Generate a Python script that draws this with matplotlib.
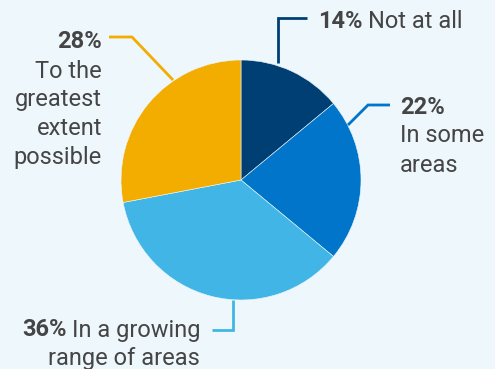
import matplotlib.pyplot as plt

plt.rcParams['font.family'] = ['Roboto', 'DejaVu Sans']

# survey shares, clockwise from 12 o'clock
labels = ['Not at all', 'In some areas', 'In a growing range of areas', 'To the greatest extent possible']
shares = [14, 22, 36, 28]
colors = ['#003f73', '#0075c9', '#41b6e6', '#f2ad00']

bg = '#eef7fc'
txt = '#454545'
W, H = 495, 369

fig = plt.figure(figsize=(W / 100, H / 100), dpi=100, facecolor=bg)
ax = fig.add_axes([0, 0, 1, 1])
ax.set_facecolor(bg)
ax.set_xlim(0, W)
ax.set_ylim(0, H)
ax.set_aspect('equal')
ax.axis('off')

def py(y):
    # pixel rows counted from the top
    return H - y

ax.pie(shares, colors=colors, startangle=90, counterclock=False,
       center=(241, py(180)), radius=120,
       wedgeprops=dict(edgecolor=bg, linewidth=0.4))
ax.set_xlim(0, W)
ax.set_ylim(0, H)

fs = 17

# leader lines
def leader(xs, ys, c):
    ax.plot(xs, [py(v) for v in ys], color=c, lw=2, solid_capstyle='butt', solid_joinstyle='miter')

leader([278, 278, 307], [63, 18, 18], colors[0])
leader([348, 368, 390], [125, 105, 105], colors[1])
leader([233, 233, 212], [300, 330, 330], colors[2])
leader([173, 132, 109], [80, 37, 37], colors[3])

# 14%
t = ax.text(318, py(21), f'{shares[0]}%', fontsize=fs, fontweight='bold', color=txt, va='center', ha='left')
fig.canvas.draw()
bb = t.get_window_extent()
ax.text(bb.x1 + 5, py(21), labels[0], fontsize=fs, color=txt, va='center', ha='left')

# 22%
ax.text(400, py(108), f'{shares[1]}%', fontsize=fs, fontweight='bold', color=txt, va='center', ha='left')
ax.text(400, py(136), 'In some', fontsize=fs, color=txt, va='center', ha='left')
ax.text(400, py(165), 'areas', fontsize=fs, color=txt, va='center', ha='left')

# 28%
ax.text(102, py(42), f'{shares[3]}%', fontsize=fs, fontweight='bold', color=txt, va='center', ha='right')
for i, s in enumerate(['To the', 'greatest', 'extent', 'possible']):
    ax.text(102, py(71 + 28.7 * i), s, fontsize=fs, color=txt, va='center', ha='right')

# 36%
t2 = ax.text(200, py(330), 'In a growing', fontsize=fs, color=txt, va='center', ha='right')
bb2 = t2.get_window_extent(renderer=fig.canvas.get_renderer())
ax.text(bb2.x0 - 5, py(330), f'{shares[2]}%', fontsize=fs, fontweight='bold', color=txt, va='center', ha='right')
ax.text(200, py(358), 'range of areas', fontsize=fs, color=txt, va='center', ha='right')

fig.savefig('out.png', dpi=100, facecolor=bg)
